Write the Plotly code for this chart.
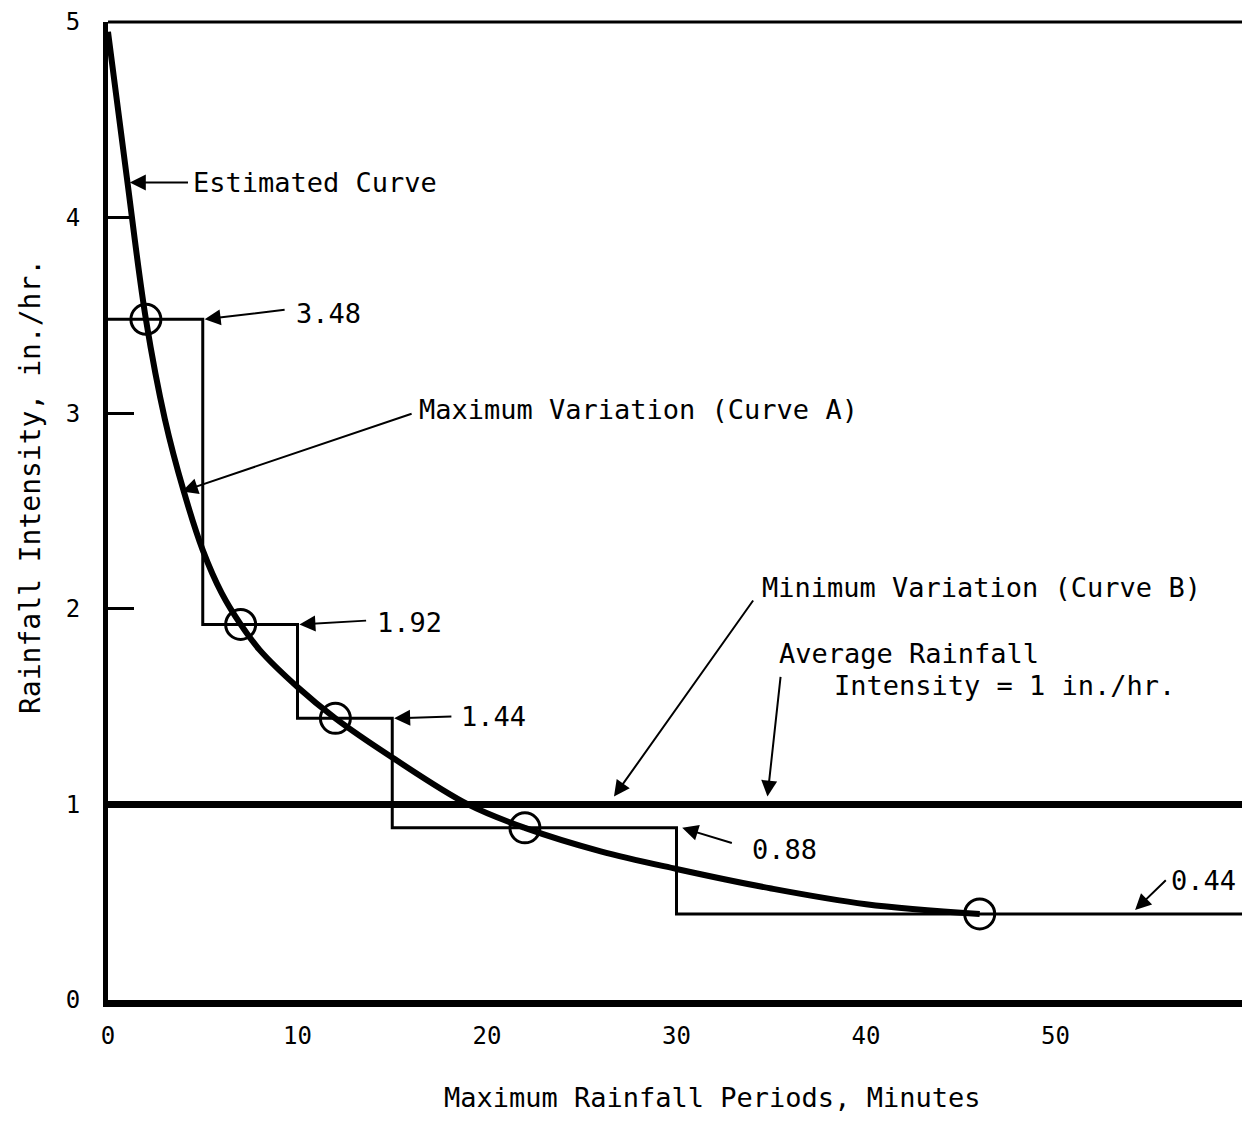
import plotly.graph_objects as go

# ---------------- data ----------------
# Estimated curve
est_x = [0, 1, 2, 3, 4, 5, 6, 7, 8, 10, 12, 15, 19, 22, 26, 30, 35, 40, 46]
est_y = [4.95, 4.2, 3.48, 2.97, 2.6, 2.3, 2.08, 1.92, 1.79, 1.6, 1.44, 1.24, 1.0, 0.88, 0.76, 0.67, 0.57, 0.49, 0.44]

# Curve A: maximum variation step function
step_x = [0, 5, 10, 15, 30, 60]
step_y = [3.48, 1.92, 1.44, 0.88, 0.44, 0.44]

# Circled points on the estimated curve
circ_x = [2, 7, 12, 22, 46]
circ_y = [3.48, 1.92, 1.44, 0.88, 0.44]

# Curve B: minimum variation (average intensity = 1 in./hr.)
avg_x = [0, 60]
avg_y = [1.0, 1.0]

x_ticks = [0, 10, 20, 30, 40, 50]
y_ticks = [0, 1, 2, 3, 4, 5]

FONT = "DejaVu Sans Mono"

# page body has an 8px margin, so the figure is drawn offset by 8px
OFF = 8
W, H = 1250 - OFF, 1124 - OFF
L, R, T, B = 108 - OFF, 5, 22 - OFF, 124
pw, ph = W - L - R, H - T - B


def px_to_paper(px, py):
    return (px - OFF - L) / pw, (H - B - (py - OFF)) / ph


fig = go.Figure()
fig.add_trace(go.Scatter(x=step_x, y=step_y, mode="lines", line_shape="hv",
                         line=dict(color="black", width=3), showlegend=False))
fig.add_trace(go.Scatter(x=avg_x, y=avg_y, mode="lines",
                         line=dict(color="black", width=7), showlegend=False))
fig.add_trace(go.Scatter(x=est_x, y=est_y, mode="lines", line_shape="spline",
                         line=dict(color="black", width=6), showlegend=False))
fig.add_trace(go.Scatter(x=circ_x, y=circ_y, mode="markers",
                         marker=dict(symbol="circle-open", size=30, color="black",
                                     line=dict(width=3, color="black")),
                         showlegend=False))

# text labels (no arrows)
labels = [
    ("Estimated Curve", 4.4, 4.18),
    ("3.48", 9.8, 3.51),
    ("Maximum Variation (Curve A)", 16.3, 3.02),
    ("1.92", 14.1, 1.93),
    ("1.44", 18.5, 1.45),
    ("0.88", 33.9, 0.77),
    ("0.44", 56.0, 0.61),
    ("Minimum Variation (Curve B)", 34.4, 2.11),
    ("Average Rainfall", 35.3, 1.77),
    ("Intensity = 1 in./hr.", 38.2, 1.61),
]
for t, x, y in labels:
    fig.add_annotation(x=x, y=y, xref="x", yref="y", text=t, showarrow=False,
                       xanchor="left", yanchor="middle",
                       font=dict(family=FONT, size=27, color="black"))

# arrows: (head x, head y, tail x, tail y)
arrows = [
    (1.15, 4.18, 4.3, 4.18),
    (5.1, 3.48, 9.4, 3.53),
    (3.9, 2.6, 16.1, 3.0),
    (10.1, 1.92, 13.7, 1.94),
    (15.1, 1.44, 18.2, 1.45),
    (30.3, 0.88, 33.0, 0.80),
    (54.2, 0.46, 55.9, 0.62),
    (26.7, 1.04, 34.1, 2.05),
    (34.8, 1.04, 35.5, 1.66),
]
for hx, hy, tx, ty in arrows:
    fig.add_annotation(x=hx, y=hy, xref="x", yref="y", ax=tx, ay=ty,
                       axref="x", ayref="y", text="", showarrow=True,
                       arrowhead=2, arrowsize=1.6, arrowwidth=2, arrowcolor="black")

# axis titles placed at the reference's pixel positions
xt = px_to_paper(712, 1097)
fig.add_annotation(x=xt[0], y=xt[1], xref="paper", yref="paper",
                   text="Maximum Rainfall Periods, Minutes", showarrow=False,
                   xanchor="center", yanchor="middle",
                   font=dict(family=FONT, size=27, color="black"))
yt = px_to_paper(30, 487)
fig.add_annotation(x=yt[0], y=yt[1], xref="paper", yref="paper",
                   text="Rainfall Intensity, in./hr.", textangle=-90, showarrow=False,
                   xanchor="center", yanchor="middle",
                   font=dict(family=FONT, size=28, color="black"))

# frame top and right
fig.add_shape(type="line", xref="paper", yref="paper", x0=0, x1=1, y0=1, y1=1,
              line=dict(color="black", width=3))
fig.add_shape(type="line", xref="paper", yref="paper", x0=1, x1=1, y0=0, y1=1,
              line=dict(color="black", width=2))

fig.update_layout(
    template="none",
    width=W, height=H,
    margin=dict(l=L, r=R, t=T, b=B, autoexpand=False),
    paper_bgcolor="white", plot_bgcolor="white",
    font=dict(family=FONT, color="black"),
    xaxis=dict(range=[0, 60], tickvals=x_ticks, ticktext=[str(v) for v in x_ticks],
               automargin=False,
               showgrid=False, zeroline=False, showline=True, linecolor="black",
               linewidth=7, ticks="", ticklabelstandoff=8,
               tickfont=dict(family=FONT, size=24, color="black")),
    yaxis=dict(range=[0, 5], tickvals=y_ticks, ticktext=[str(v) for v in y_ticks],
               automargin=False,
               showgrid=False, zeroline=False, showline=True, linecolor="black",
               linewidth=5, ticks="inside", ticklen=26, tickwidth=3, tickcolor="black",
               ticklabelstandoff=18,
               tickfont=dict(family=FONT, size=24, color="black")),
)

fig.write_html("out.html")
